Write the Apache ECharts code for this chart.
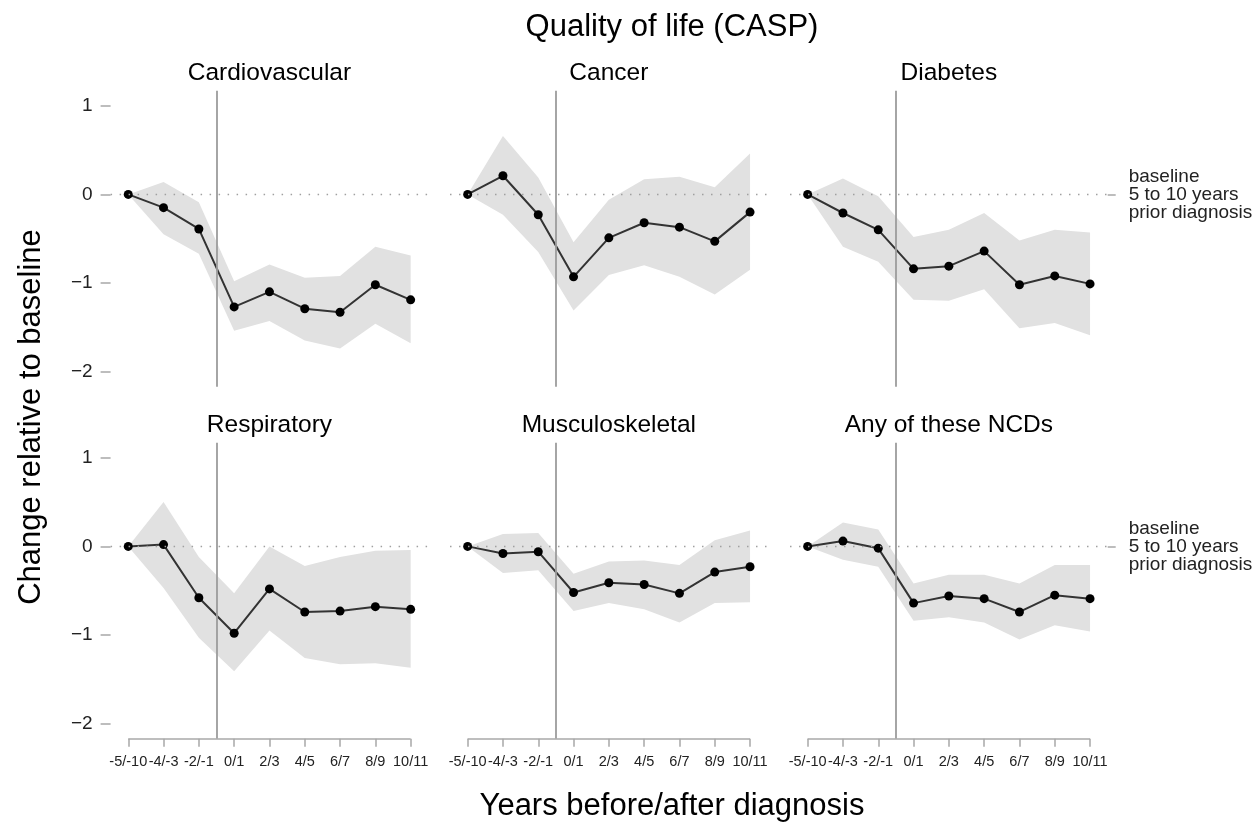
<!DOCTYPE html>
<html>
<head>
<meta charset="utf-8">
<script src="https://cdn.jsdelivr.net/npm/echarts@6/dist/echarts.min.js"></script>
<style>
  html, body { margin: 0; padding: 0; background: #ffffff; }
  #chart { width: 1260px; height: 824px; }
</style>
</head>
<body>
<div id="chart"></div>
<script>
// ---- Data ----
const categories = ['-5/-10', '-4/-3', '-2/-1', '0/1', '2/3', '4/5', '6/7', '8/9', '10/11'];
const panelTitles = ['Cardiovascular', 'Cancer', 'Diabetes', 'Respiratory', 'Musculoskeletal', 'Any of these NCDs'];
const yTicks = [-2, -1, 0, 1];
const baselineLabel = 'baseline\n5 to 10 years\nprior diagnosis';

const cardioEst  = [0, -0.15, -0.39, -1.27, -1.10, -1.29, -1.33, -1.02, -1.19];
const cardioLow  = [0, -0.45, -0.67, -1.54, -1.43, -1.65, -1.74, -1.46, -1.68];
const cardioHigh = [0,  0.14, -0.09, -0.98, -0.79, -0.94, -0.92, -0.59, -0.69];

const cancerEst  = [0,  0.21, -0.23, -0.93, -0.49, -0.32, -0.37, -0.53, -0.20];
const cancerLow  = [0, -0.23, -0.65, -1.31, -0.91, -0.80, -0.93, -1.13, -0.85];
const cancerHigh = [0,  0.66,  0.19, -0.54, -0.06,  0.17,  0.20,  0.08,  0.46];

const diabEst  = [0, -0.21, -0.40, -0.84, -0.81, -0.64, -1.02, -0.92, -1.01];
const diabLow  = [0, -0.59, -0.76, -1.19, -1.20, -1.07, -1.51, -1.45, -1.59];
const diabHigh = [0,  0.18, -0.02, -0.48, -0.40, -0.21, -0.52, -0.40, -0.43];

const respEst  = [0,  0.02, -0.58, -0.98, -0.48, -0.74, -0.73, -0.68, -0.71];
const respLow  = [0, -0.47, -1.03, -1.41, -0.95, -1.26, -1.33, -1.32, -1.37];
const respHigh = [0,  0.50, -0.12, -0.53,  0.00, -0.22, -0.12, -0.05, -0.04];

const muscEst  = [0, -0.08, -0.06, -0.52, -0.41, -0.43, -0.53, -0.29, -0.23];
const muscLow  = [0, -0.30, -0.27, -0.73, -0.64, -0.71, -0.86, -0.64, -0.63];
const muscHigh = [0,  0.14,  0.15, -0.31, -0.17, -0.16, -0.21,  0.07,  0.18];

const anyEst  = [0,  0.06, -0.02, -0.64, -0.56, -0.59, -0.74, -0.55, -0.59];
const anyLow  = [0, -0.15, -0.23, -0.84, -0.80, -0.86, -1.05, -0.89, -0.96];
const anyHigh = [0,  0.27,  0.19, -0.42, -0.32, -0.32, -0.42, -0.21, -0.21];

const panels = [
  { est: cardioEst, low: cardioLow, high: cardioHigh },
  { est: cancerEst, low: cancerLow, high: cancerHigh },
  { est: diabEst,   low: diabLow,   high: diabHigh },
  { est: respEst,   low: respLow,   high: respHigh },
  { est: muscEst,   low: muscLow,   high: muscHigh },
  { est: anyEst,    low: anyLow,    high: anyHigh }
];

// ---- Layout / style ----
const FONT = '"Liberation Sans", Arial, Helvetica, sans-serif';
const Y_MIN = -2.17, Y_MAX = 1.17;
const X_MIN = -0.5, X_MAX = 8.5;
const colLeft = [110.6, 450, 790];
const gridW = 317.7;
const rowTop = [90.7, 442.7];
const gridH = 296;
const tickGrey = '#a8a8a8';

const grids = [], xAxes = [], yAxes = [], series = [], graphics = [];

panels.forEach((p, k) => {
  const col = k % 3, row = Math.floor(k / 3);
  const isBottom = row === 1, isLeft = col === 0;
  grids.push({ left: colLeft[col], top: rowTop[row], width: gridW, height: gridH, containLabel: false });

  xAxes.push({
    type: 'value', gridIndex: k, min: X_MIN, max: X_MAX, position: 'bottom',
    axisLine: { show: false, onZero: false }, splitLine: { show: false },
    axisTick: { show: isBottom, customValues: categories.map((c, i) => i), length: 8,
      lineStyle: { color: tickGrey, width: 1.5 } },
    axisLabel: { show: isBottom, customValues: categories.map((c, i) => i), margin: 16,
      formatter: v => categories[Math.round(v)], fontFamily: FONT, fontSize: 14.5, color: '#222' }
  });

  yAxes.push({
    type: 'value', gridIndex: k, min: Y_MIN, max: Y_MAX, position: 'left',
    axisLine: { show: false, onZero: false }, splitLine: { show: false },
    axisTick: { show: isLeft, customValues: yTicks, length: 10, lineStyle: { color: tickGrey, width: 1.5 } },
    axisLabel: { show: isLeft, customValues: yTicks, margin: 18, fontFamily: FONT, fontSize: 19, color: '#222',
      formatter: v => (v < 0 ? '\u2212' + Math.abs(v) : String(v)) }
  });

  // confidence ribbon
  series.push({
    type: 'custom', xAxisIndex: k, yAxisIndex: k, z: 1, silent: true,
    data: p.est.map((v, i) => [i, p.low[i], p.high[i]]),
    encode: { x: 0, y: [1, 2] },
    renderItem: (params, api) => {
      if (params.dataIndex !== 0) return null;
      const pts = [];
      for (let i = 0; i < p.high.length; i++) pts.push(api.coord([i, p.high[i]]));
      for (let i = p.low.length - 1; i >= 0; i--) pts.push(api.coord([i, p.low[i]]));
      return { type: 'polygon', shape: { points: pts }, style: { fill: '#e1e1e1', stroke: null } };
    }
  });

  // reference lines
  const mlData = [
    { yAxis: 0, lineStyle: { type: [1.5, 7.5], color: '#a0a0a0', width: 1.3 } },
    { xAxis: 2.5, lineStyle: { type: 'solid', color: '#9c9c9c', width: 1.8 } }
  ];
  if (isBottom) {
    mlData.push([
      { coord: [0, Y_MIN], lineStyle: { type: 'solid', color: tickGrey, width: 1.5 } },
      { coord: [8, Y_MIN] }
    ]);
  }
  series.push({
    type: 'line', xAxisIndex: k, yAxisIndex: k, z: 2, silent: true,
    data: [], showSymbol: false,
    markLine: { silent: true, symbol: 'none', animation: false, label: { show: false },
      emphasis: { disabled: true }, data: mlData }
  });

  // estimates
  series.push({
    type: 'line', xAxisIndex: k, yAxisIndex: k, z: 3, silent: true,
    data: p.est.map((v, i) => [i, v]),
    symbol: 'circle', symbolSize: 9, showSymbol: true,
    itemStyle: { color: '#000' },
    lineStyle: { color: '#333', width: 2 }
  });

  graphics.push({
    type: 'text', x: colLeft[col] + gridW / 2, y: rowTop[row] - 17,
    style: { text: panelTitles[k], font: '24.5px ' + FONT, fill: '#000', textAlign: 'center', textVerticalAlign: 'middle' }
  });
});

// secondary right-side axes (baseline label) for right column
[2, 5].forEach(k => {
  yAxes.push({
    type: 'value', gridIndex: k, min: Y_MIN, max: Y_MAX, position: 'right',
    axisLine: { show: false, onZero: false }, splitLine: { show: false },
    axisTick: { show: true, customValues: [0], length: 8, lineStyle: { color: tickGrey, width: 1.5 } },
    axisLabel: { show: true, customValues: [0], margin: 21, fontFamily: FONT, fontSize: 19, lineHeight: 18,
      color: '#222', align: 'left', formatter: () => baselineLabel }
  });
});

graphics.push({
  type: 'text', x: 672, y: 27,
  style: { text: 'Quality of life (CASP)', font: '31px ' + FONT, fill: '#000', textAlign: 'center', textVerticalAlign: 'middle' }
});
graphics.push({
  type: 'text', x: 672, y: 806,
  style: { text: 'Years before/after diagnosis', font: '31px ' + FONT, fill: '#000', textAlign: 'center', textVerticalAlign: 'middle' }
});
graphics.push({
  type: 'text', x: 31, y: 417, rotation: Math.PI / 2,
  style: { text: 'Change relative to baseline', font: '31px ' + FONT, fill: '#000', textAlign: 'center', textVerticalAlign: 'middle' }
});

const chart = echarts.init(document.getElementById('chart'), null, { renderer: 'canvas' });
chart.setOption({
  animation: false,
  backgroundColor: '#ffffff',
  textStyle: { fontFamily: FONT },
  grid: grids,
  xAxis: xAxes,
  yAxis: yAxes,
  series: series,
  graphic: graphics
});
</script>
</body>
</html>
